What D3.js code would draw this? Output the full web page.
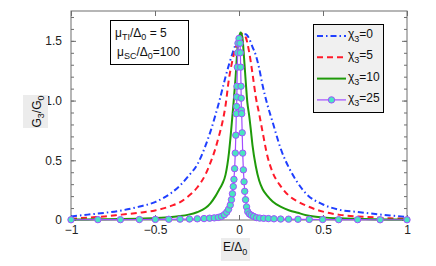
<!DOCTYPE html>
<html>
<head>
<meta charset="utf-8">
<script src="https://cdn.jsdelivr.net/npm/d3@7"></script>
<style>
  body { margin: 0; background: #fff; }
  svg { font-family: "Liberation Sans", Arial, sans-serif; }
</style>
</head>
<body>
<div id="chart"></div>
<script>
// grid for the chi3 = 0 and chi3 = 5 curves
const gridE = [-1, -0.9, -0.8, -0.7, -0.6, -0.5, -0.4, -0.35, -0.3, -0.25, -0.2, -0.17, -0.14, -0.12, -0.1,
  -0.08, -0.06, -0.04, -0.02, 0, 0.02, 0.04, 0.06, 0.08, 0.1, 0.12, 0.14, 0.17, 0.2, 0.25, 0.3, 0.35, 0.4,
  0.5, 0.6, 0.7, 0.8, 0.9, 1];
const chi0G = [0.03, 0.045, 0.06, 0.08, 0.11, 0.15, 0.23, 0.29, 0.37, 0.46, 0.62, 0.74, 0.88, 0.98, 1.09,
  1.2, 1.3, 1.39, 1.47, 1.52, 1.555, 1.555, 1.52, 1.45, 1.38, 1.27, 1.13, 0.96, 0.82, 0.59, 0.43, 0.31, 0.22,
  0.13, 0.085, 0.068, 0.052, 0.038, 0.025];
const chi5G = [0.01, 0.02, 0.03, 0.045, 0.06, 0.08, 0.12, 0.15, 0.2, 0.27, 0.38, 0.48, 0.6, 0.7, 0.81,
  0.96, 1.18, 1.33, 1.44, 1.52, 1.56, 1.53, 1.41, 1.23, 1.03, 0.89, 0.74, 0.53, 0.4, 0.28, 0.2, 0.155, 0.12,
  0.07, 0.043, 0.03, 0.022, 0.014, 0.01];

// chi3 = 10 is narrower, so a finer grid near zero
const chi10E = [-1, -0.9, -0.8, -0.7, -0.6, -0.5, -0.4, -0.35, -0.3, -0.25, -0.2, -0.17, -0.14, -0.12, -0.1,
  -0.08, -0.06, -0.05, -0.04, -0.03, -0.02, -0.01, 0, 0.01, 0.02, 0.03, 0.04, 0.05, 0.06, 0.07, 0.08, 0.1,
  0.12, 0.14, 0.17, 0.2, 0.25, 0.3, 0.35, 0.4, 0.5, 0.6, 0.7, 0.8, 0.9, 1];
const chi10G = [0.004, 0.005, 0.006, 0.008, 0.011, 0.016, 0.025, 0.033, 0.045, 0.065, 0.1, 0.14, 0.2, 0.25, 0.3,
  0.38, 0.56, 0.7, 0.86, 1.02, 1.2, 1.42, 1.53, 1.57, 1.53, 1.36, 1.16, 0.98, 0.88, 0.76, 0.63, 0.45,
  0.33, 0.26, 0.2, 0.155, 0.11, 0.08, 0.06, 0.04, 0.022, 0.014, 0.01, 0.007, 0.005, 0.004];

// chi3 = 25, sampled points (drawn with markers)
const chi25E = [-1, -0.84, -0.706, -0.593, -0.498, -0.418, -0.351, -0.295, -0.248, -0.208, -0.175, -0.147,
  -0.123, -0.104, -0.087, -0.073, -0.062, -0.052, -0.045, -0.039, -0.034, -0.03, -0.026, -0.022, -0.019,
  -0.016, -0.014, -0.013, -0.012, -0.01, -0.008, -0.006, 0,
  0.006, 0.008, 0.01, 0.012, 0.013, 0.014, 0.016, 0.019, 0.022, 0.026, 0.03, 0.034, 0.039, 0.045, 0.052,
  0.062, 0.073, 0.087, 0.104, 0.123, 0.147, 0.175, 0.208, 0.248, 0.295, 0.351, 0.418, 0.498, 0.593, 0.706,
  0.84, 1];
const chi25G = [0.002, 0.003, 0.003, 0.004, 0.005, 0.006, 0.007, 0.008, 0.01, 0.012, 0.015, 0.018,
  0.022, 0.03, 0.045, 0.065, 0.09, 0.125, 0.17, 0.22, 0.28, 0.34, 0.43, 0.56, 0.71,
  0.89, 0.95, 1.03, 1.12, 1.28, 1.4, 1.48, 1.52,
  1.48, 1.4, 1.28, 1.12, 1.02, 0.92, 0.89, 0.73, 0.56, 0.42, 0.32, 0.24, 0.17, 0.11, 0.07,
  0.05, 0.04, 0.03, 0.02, 0.016, 0.014, 0.012, 0.01, 0.008, 0.007, 0.006, 0.005, 0.004, 0.003, 0.003,
  0.002, 0.002];

const seriesNames = ["0", "5", "10", "25"];
const xTicks = [-1, -0.5, 0, 0.5, 1];
const xTickLabels = ["\u22121", "\u22120.5", "0", "0.5", "1"];
const yTicks = [0, 0.5, 1.0, 1.5];
const yTickLabels = ["0", "0.5", "1.0", "1.5"];

const width = 436, height = 266;
const margin = { top: 11, right: 29, bottom: 46, left: 71 };
const iw = width - margin.left - margin.right;
const ih = height - margin.top - margin.bottom;

const svg = d3.select("#chart").append("svg")
  .attr("width", width)
  .attr("height", height);

const x = d3.scaleLinear().domain([-1, 1]).range([0, iw]);
const y = d3.scaleLinear().domain([0, 1.75]).range([ih, 0]);

const g = svg.append("g").attr("transform", `translate(${margin.left},${margin.top})`);

// clip so the curves stay in the frame
g.append("clipPath").attr("id", "clip")
  .append("rect").attr("width", iw).attr("height", ih + 2).attr("y", -1);

const axisColor = "#6e6e6e";

// ticks on all four sides, pointing inward
const minorY = d3.range(0, 1.76, 0.1);
const addTicks = (axisGen, tr) => {
  const a = g.append("g").attr("transform", tr).call(axisGen);
  a.select(".domain").remove();
  a.selectAll("line").attr("stroke", axisColor);
  return a;
};
addTicks(d3.axisLeft(y).tickValues(minorY).tickSize(-3).tickFormat(""), "");
addTicks(d3.axisRight(y).tickValues(minorY).tickSize(-3).tickFormat(""), `translate(${iw},0)`);
addTicks(d3.axisLeft(y).tickValues(yTicks).tickSize(-5).tickFormat(""), "");
addTicks(d3.axisRight(y).tickValues(yTicks).tickSize(-5).tickFormat(""), `translate(${iw},0)`);
addTicks(d3.axisTop(x).tickValues(xTicks).tickSize(-5).tickFormat(""), "");
addTicks(d3.axisBottom(x).tickValues(xTicks).tickSize(-5).tickFormat(""), `translate(0,${ih})`);

// tick labels
const yl = g.append("g").attr("transform", "translate(-6,0)")
  .call(d3.axisLeft(y).tickValues(yTicks).tickSize(0).tickFormat((d, i) => yTickLabels[i]));
yl.select(".domain").remove();
yl.selectAll("text").attr("font-size", 12).attr("fill", "#222").attr("font-family", null);

const xl = g.append("g").attr("transform", `translate(0,${ih + 2})`)
  .call(d3.axisBottom(x).tickValues(xTicks).tickSize(0).tickFormat((d, i) => xTickLabels[i]));
xl.select(".domain").remove();
xl.selectAll("text").attr("font-size", 12).attr("fill", "#222").attr("font-family", null);

// frame
g.append("rect")
  .attr("width", iw).attr("height", ih)
  .attr("fill", "none").attr("stroke", axisColor).attr("stroke-width", 1);

const line = d3.line().x(d => x(d[0])).y(d => y(d[1])).curve(d3.curveMonotoneX);
const plot = g.append("g").attr("clip-path", "url(#clip)");

const styles = [
  { color: "#1f3fff", dash: "6,3,1.5,3", w: 2 },
  { color: "#ff1a2a", dash: "6,4", w: 2 },
  { color: "#1f9a0a", dash: null, w: 2 },
  { color: "#a34dff", dash: null, w: 1.2 }
];

const curves = [
  d3.zip(gridE, chi0G),
  d3.zip(gridE, chi5G),
  d3.zip(chi10E, chi10G),
  d3.zip(chi25E, chi25G)
];

curves.forEach((pts, i) => {
  plot.append("path")
    .datum(pts)
    .attr("fill", "none")
    .attr("stroke", styles[i].color)
    .attr("stroke-width", styles[i].w)
    .attr("stroke-dasharray", styles[i].dash)
    .attr("d", i === 3 ? d3.line().x(d => x(d[0])).y(d => y(d[1]))(pts) : line(pts));
});

// markers are not clipped (matlab draws them whole at the edges)
const markerFill = "#48e6c0";
g.append("g").selectAll("circle")
  .data(curves[3])
  .join("circle")
  .attr("cx", d => x(d[0]))
  .attr("cy", d => y(d[1]))
  .attr("r", 3.2)
  .attr("fill", markerFill)
  .attr("stroke", styles[3].color)
  .attr("stroke-width", 1);

// annotation box
const ann = svg.append("g");
ann.append("rect").attr("x", 110.5).attr("y", 20.5).attr("width", 78).attr("height", 44)
  .attr("fill", "#fff").attr("stroke", "#000").attr("stroke-width", 1);
const annText = [
  ["\u03bc", "TI", "/\u0394", "0", " = 5"],
  ["\u03bc", "SC", "/\u0394", "0", "=100"]
];
annText.forEach((parts, i) => {
  const t = ann.append("text").attr("x", i === 0 ? 115 : 117).attr("y", 37 + i * 19)
    .attr("font-size", 12).attr("fill", "#111");
  parts.forEach((p, j) => {
    const sub = j === 1 || j === 3;
    t.append("tspan").text(p)
      .attr("font-size", sub ? 9 : 12)
      .attr("dy", sub ? 3 : (j === 0 ? 0 : -3));
  });
});

// legend
const leg = svg.append("g");
leg.append("rect").attr("x", 313.5).attr("y", 24.5).attr("width", 70).attr("height", 88)
  .attr("fill", "#f0f0f0").attr("stroke", "#000").attr("stroke-width", 1);
seriesNames.forEach((name, i) => {
  const yy = 36 + i * 21.3;
  leg.append("line").attr("x1", 317).attr("x2", 346).attr("y1", yy).attr("y2", yy)
    .attr("stroke", styles[i].color).attr("stroke-width", styles[i].w)
    .attr("stroke-dasharray", styles[i].dash);
  if (i === 3) {
    leg.append("circle").attr("cx", 331.5).attr("cy", yy).attr("r", 3.2)
      .attr("fill", markerFill).attr("stroke", styles[3].color).attr("stroke-width", 1);
  }
  const t = leg.append("text").attr("x", 348).attr("y", yy + 2).attr("font-size", 12).attr("fill", "#111");
  t.append("tspan").text("\u03c7");
  t.append("tspan").text("3").attr("font-size", 9).attr("dy", 4);
  t.append("tspan").text("=" + name).attr("dy", -4);
});

// axis labels with gray backgrounds
svg.append("rect").attr("x", 23).attr("y", 95).attr("width", 25).attr("height", 33).attr("fill", "#ececec");
const yt = svg.append("text").attr("transform", "translate(41,111.5) rotate(-90)")
  .attr("text-anchor", "middle").attr("font-size", 12).attr("fill", "#111");
yt.append("tspan").text("G");
yt.append("tspan").text("3").attr("font-size", 9).attr("dy", 3);
yt.append("tspan").text("/G").attr("dy", -3);
yt.append("tspan").text("0").attr("font-size", 9).attr("dy", 3);

svg.append("rect").attr("x", 221).attr("y", 238).attr("width", 29).attr("height", 23).attr("fill", "#ececec");
const xt = svg.append("text").attr("x", 223).attr("y", 251).attr("font-size", 12).attr("fill", "#111");
xt.append("tspan").text("E/\u0394");
xt.append("tspan").text("0").attr("font-size", 9).attr("dy", 4);
</script>
</body>
</html>
